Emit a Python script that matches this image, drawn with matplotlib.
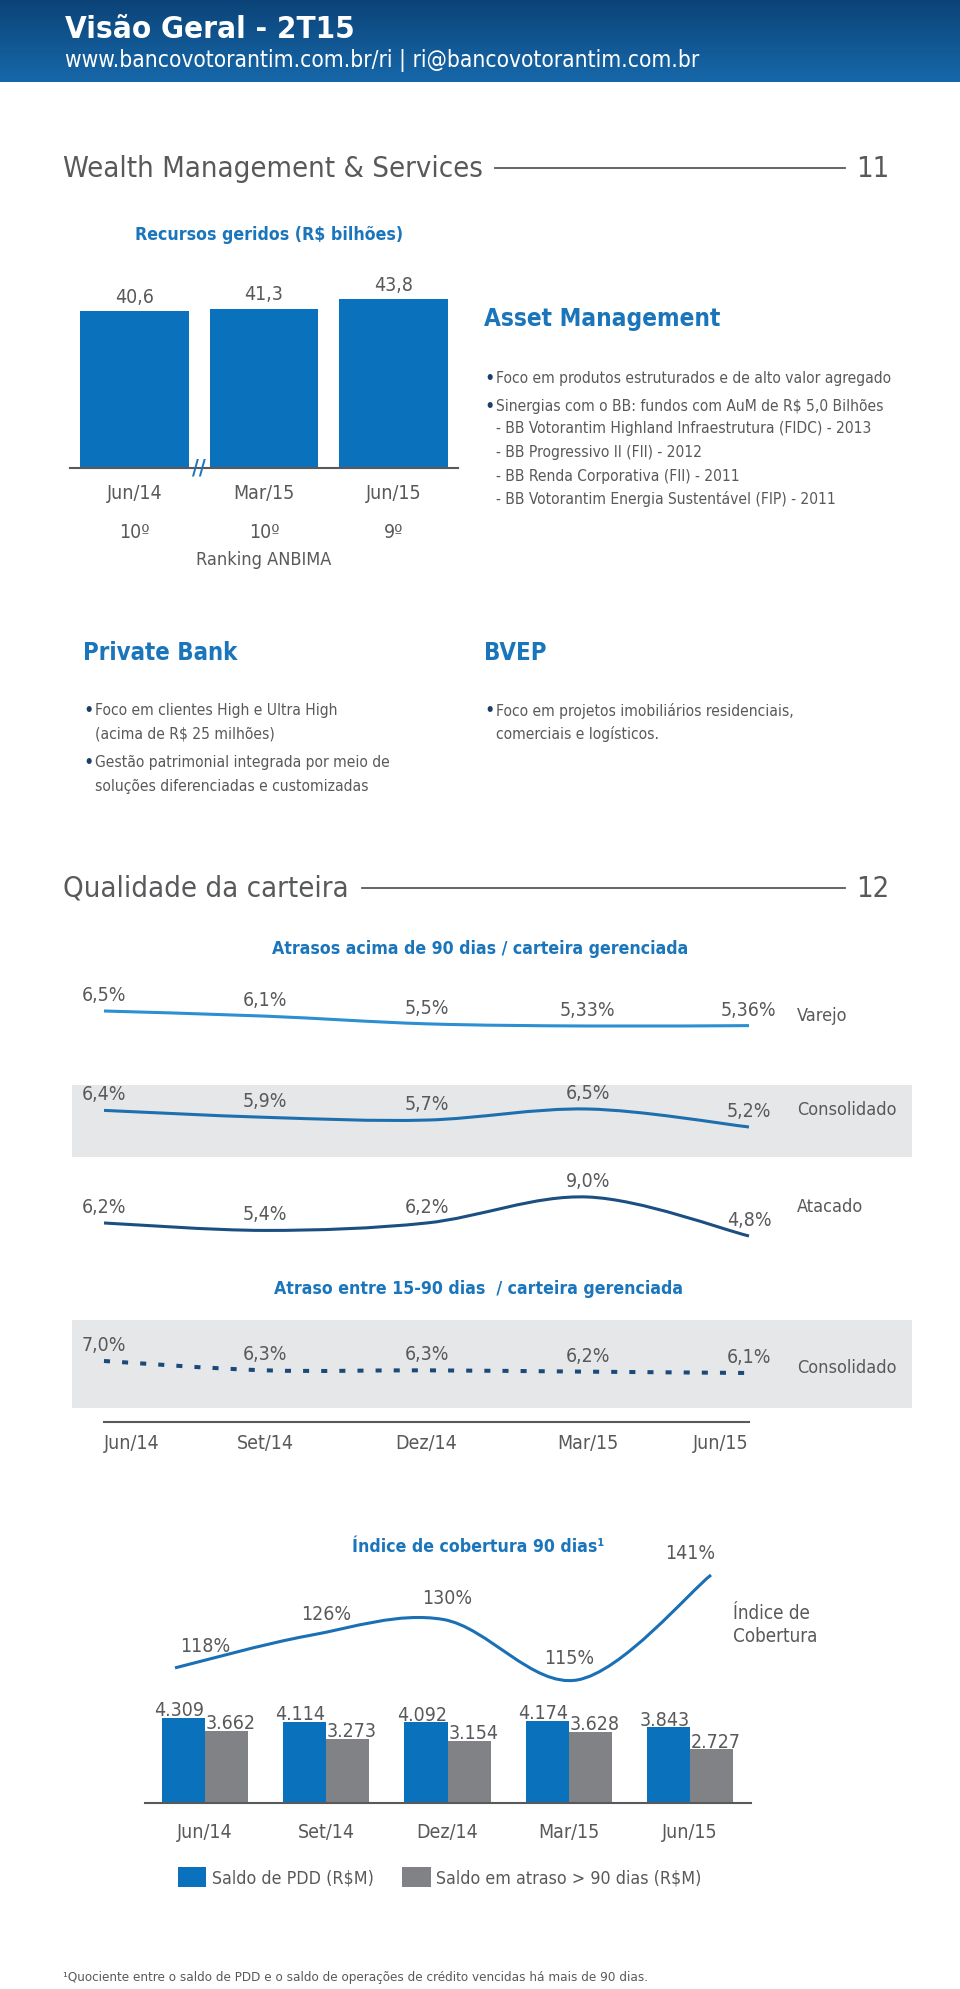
import numpy as np
import matplotlib
matplotlib.use('Agg')
import matplotlib.pyplot as plt
from matplotlib.path import Path
from matplotlib.patches import PathPatch, Rectangle
from matplotlib.lines import Line2D
from matplotlib.transforms import Affine2D, blended_transform_factory

plt.rcParams['font.family'] = ['DejaVu Sans']
plt.rcParams['font.stretch'] = 'condensed'

# Dados - Recursos geridos (R$ bilhões)
recursos_cats = ['Jun/14', 'Mar/15', 'Jun/15']
recursos_vals = [40.6, 41.3, 43.8]
ranking_anbima = ['10º', '10º', '9º']

# Dados - Qualidade da carteira
trimestres = ['Jun/14', 'Set/14', 'Dez/14', 'Mar/15', 'Jun/15']
varejo = [6.5, 6.1, 5.5, 5.33, 5.36]
consolidado = [6.4, 5.9, 5.7, 6.5, 5.2]
atacado = [6.2, 5.4, 6.2, 9.0, 4.8]
atraso_15_90 = [7.0, 6.3, 6.3, 6.2, 6.1]
cobertura = [118, 126, 130, 115, 141]
saldo_pdd = [4309, 4114, 4092, 4174, 3843]
saldo_atraso = [3662, 3273, 3154, 3628, 2727]

asset_bullets = ['Foco em produtos estruturados e de alto valor agregado',
                 'Sinergias com o BB: fundos com AuM de R$ 5,0 Bilhões']
asset_fundos = ['- BB Votorantim Highland Infraestrutura (FIDC) - 2013',
                '- BB Progressivo II (FII) - 2012',
                '- BB Renda Corporativa (FII) - 2011',
                '- BB Votorantim Energia Sustentável (FIP) - 2011']
private_bullets = [['Foco em clientes High e Ultra High', '(acima de R$ 25 milhões)'],
                   ['Gestão patrimonial integrada por meio de', 'soluções diferenciadas e customizadas']]
bvep_bullets = [['Foco em projetos imobiliários residenciais,', 'comerciais e logísticos.']]

BLUE = '#0a72bd'
TITLE_BLUE = '#1a75bb'
GRAY_BAR = '#808285'
TEXT = '#58595b'
NAVY = '#1d3e6a'
BAND = '#e6e7e8'

W, H = 960, 1990
fig = plt.figure(figsize=(W / 100, H / 100), dpi=100)
PX = Affine2D().scale(1 / W, -1 / H).translate(0, 1) + fig.transFigure


def box(x0, y0, x1, y1):
    return fig.add_axes([x0 / W, 1 - y1 / H, (x1 - x0) / W, (y1 - y0) / H])


def txt(x, y, s, **kw):
    kw.setdefault('va', 'center')
    kw.setdefault('color', TEXT)
    return fig.text(x, y, s, transform=PX, **kw)


def hline(x0, x1, y, color=TEXT, lw=1.3):
    fig.add_artist(Line2D([x0, x1], [y, y], transform=PX, color=color, lw=lw))


def band(y0, y1):
    fig.add_artist(Rectangle((72, y0), 840, y1 - y0, transform=PX,
                             facecolor=BAND, edgecolor='none', zorder=-1))


def pct(v):
    s = f'{v:.2f}'
    if s.endswith('0'):
        s = s[:-1]
    return s.replace('.', ',') + '%'


def smooth_path(xs, ys):
    p = np.column_stack([xs, ys]).astype(float)
    ext = np.vstack([p[0], p, p[-1]])
    verts, codes = [p[0]], [Path.MOVETO]
    for i in range(len(p) - 1):
        p0, p1, p2, p3 = ext[i], ext[i + 1], ext[i + 2], ext[i + 3]
        verts += [p1 + (p2 - p0) / 6, p2 - (p3 - p1) / 6, p2]
        codes += [Path.CURVE4] * 3
    return Path(verts, codes)


def serie(vals, y_top, y_bot, color, lw=2.2, ls='-', x0=104, x1=749):
    ax = box(x0, y_top, x1, y_bot)
    ax.set_xlim(0, len(vals) - 1)
    ax.set_ylim(min(vals), max(vals))
    ax.axis('off')
    ax.add_patch(PathPatch(smooth_path(range(len(vals)), vals), fill=False,
                           edgecolor=color, lw=lw, linestyle=ls,
                           capstyle='butt', clip_on=False))
    return ax


def rotulos(ax, vals):
    for i, v in enumerate(vals):
        ax.annotate(pct(v), (i, v), xytext=(0, 8), textcoords='offset points',
                    ha='center', va='baseline', fontsize=14, color=TEXT)


# Cabeçalho com gradiente
ax_h = box(0, 0, W, 83)
grad = np.linspace(0, 1, 100).reshape(-1, 1)
top_c = np.array(matplotlib.colors.to_rgb('#0b4377'))
bot_c = np.array(matplotlib.colors.to_rgb('#1768aa'))
ax_h.imshow(top_c + grad[..., None] * (bot_c - top_c), aspect='auto',
            extent=(0, 1, 0, 1))
ax_h.axis('off')
txt(65, 29, 'Visão Geral - 2T15', fontsize=22.5, fontweight='bold', color='white')
txt(65, 60, 'www.bancovotorantim.com.br/ri | ri@bancovotorantim.com.br',
    fontsize=16.3, color='white')

# Wealth Management & Services
txt(63, 169, 'Wealth Management & Services', fontsize=21)
hline(495, 845, 169)
txt(889, 169, '11', fontsize=21, ha='right')

txt(269, 235, 'Recursos geridos (R$ bilhões)', fontsize=12.7, fontweight='bold',
    color=TITLE_BLUE, ha='center')
ax_r = box(70, 280, 458, 469)
ax_r.bar(range(len(recursos_vals)), recursos_vals, width=0.84, color=BLUE)
ax_r.set_xlim(-0.5, len(recursos_vals) - 0.5)
ax_r.set_ylim(0, 49)
for s in ['top', 'left', 'right']:
    ax_r.spines[s].set_visible(False)
ax_r.spines['bottom'].set_color(TEXT)
ax_r.spines['bottom'].set_linewidth(1.5)
ax_r.set_yticks([])
ax_r.set_xticks(range(len(recursos_cats)), recursos_cats)
ax_r.tick_params(axis='x', length=0, pad=11, labelsize=14, labelcolor=TEXT)
ax_r.patch.set_visible(False)
for i, v in enumerate(recursos_vals):
    ax_r.annotate(f'{v:.1f}'.replace('.', ','), (i, v), xytext=(0, 4),
                  textcoords='offset points', ha='center', va='bottom',
                  fontsize=14, color=TEXT)
ax_r.text(0.5, 0, '//', ha='center', va='center', fontsize=15, color=TITLE_BLUE,
          fontweight='bold')
tr_r = blended_transform_factory(ax_r.transData, PX)
for i, r in enumerate(ranking_anbima):
    ax_r.text(i, 532, r, transform=tr_r, ha='center', va='center', fontsize=14, color=TEXT)
ax_r.text(1, 560, 'Ranking ANBIMA', transform=tr_r, ha='center', va='center',
          fontsize=13, color=TEXT)

# Asset Management
txt(484, 319, 'Asset Management', fontsize=17.5, fontweight='bold', color=TITLE_BLUE)
for y, s in zip([378, 406], asset_bullets):
    txt(484, y, '•', fontsize=14, color=NAVY)
    txt(496, y, s, fontsize=11.2)
for y, s in zip([429, 452, 476, 499], asset_fundos):
    txt(496, y, s, fontsize=11.2)

# Private Bank / BVEP
txt(83, 653, 'Private Bank', fontsize=17.2, fontweight='bold', color=TITLE_BLUE)
txt(484, 653, 'BVEP', fontsize=17.2, fontweight='bold', color=TITLE_BLUE)
for ys, linhas in zip([(711, 734), (763, 786)], private_bullets):
    txt(83, ys[0], '•', fontsize=14, color=NAVY)
    for y, s in zip(ys, linhas):
        txt(95, y, s, fontsize=11.2)
for ys, linhas in zip([(711, 734)], bvep_bullets):
    txt(484, ys[0], '•', fontsize=14, color=NAVY)
    for y, s in zip(ys, linhas):
        txt(496, y, s, fontsize=11.2)

# Qualidade da carteira
txt(63, 889, 'Qualidade da carteira', fontsize=21)
hline(362, 845, 889)
txt(889, 889, '12', fontsize=21, ha='right')

txt(480, 949, 'Atrasos acima de 90 dias / carteira gerenciada', fontsize=12.7,
    fontweight='bold', color=TITLE_BLUE, ha='center')
band(1086, 1158)
ax_v = serie(varejo, 1012, 1027, '#2b8fd1')
rotulos(ax_v, varejo)
txt(797, 1016, 'Varejo', fontsize=13)
ax_c = serie(consolidado, 1110, 1128, '#1e6fae')
rotulos(ax_c, consolidado)
txt(797, 1110, 'Consolidado', fontsize=13)
ax_a = serie(atacado, 1198, 1237, '#1b4f82')
rotulos(ax_a, atacado)
txt(797, 1207, 'Atacado', fontsize=13)

txt(478, 1289, 'Atraso entre 15-90 dias  / carteira gerenciada', fontsize=12.7,
    fontweight='bold', color=TITLE_BLUE, ha='center')
band(1321, 1409)
ax_d = serie(atraso_15_90, 1362, 1374, '#1b4a7a', lw=2.9, ls=(0, (1.5, 3)))
rotulos(ax_d, atraso_15_90)
txt(797, 1368, 'Consolidado', fontsize=13)

ax_x = box(104, 1420, 749, 1423)
ax_x.set_xlim(0, len(trimestres) - 1)
ax_x.set_yticks([])
for s in ['top', 'left', 'right']:
    ax_x.spines[s].set_visible(False)
ax_x.spines['bottom'].set_color(TEXT)
ax_x.spines['bottom'].set_linewidth(1.5)
ax_x.patch.set_visible(False)
ax_x.set_xticks(range(len(trimestres)), trimestres)
ax_x.tick_params(axis='x', length=0, pad=8, labelsize=14, labelcolor=TEXT)
ax_x.get_xticklabels()[0].set_ha('left')
ax_x.get_xticklabels()[-1].set_ha('right')

# Índice de cobertura
txt(478, 1547, 'Índice de cobertura 90 dias¹', fontsize=12.7, fontweight='bold',
    color=TITLE_BLUE, ha='center')
ax_b = box(144.5, 1700, 750.5, 1804)
xb = np.arange(len(trimestres))
wb = 0.355
b1 = ax_b.bar(xb - wb / 2, saldo_pdd, width=wb, color=BLUE, label='Saldo de PDD (R$M)')
b2 = ax_b.bar(xb + wb / 2, saldo_atraso, width=wb, color=GRAY_BAR,
              label='Saldo em atraso > 90 dias (R$M)')
ax_b.set_xlim(-0.5, len(trimestres) - 0.5)
ax_b.set_ylim(0, 5280)
for s in ['top', 'left', 'right']:
    ax_b.spines[s].set_visible(False)
ax_b.spines['bottom'].set_color(TEXT)
ax_b.spines['bottom'].set_linewidth(1.5)
ax_b.set_yticks([])
ax_b.patch.set_visible(False)
ax_b.set_xticks(xb, trimestres)
ax_b.tick_params(axis='x', length=0, pad=14, labelsize=14, labelcolor=TEXT)
for i in xb:
    ax_b.annotate(f'{saldo_pdd[i]:,}'.replace(',', '.'), (i - wb / 2, saldo_pdd[i]),
                  xytext=(-3, 2), textcoords='offset points', ha='center',
                  va='baseline', fontsize=14, color=TEXT)
    ax_b.annotate(f'{saldo_atraso[i]:,}'.replace(',', '.'), (i + wb / 2, saldo_atraso[i]),
                  xytext=(3, 2), textcoords='offset points', ha='center',
                  va='baseline', fontsize=14, color=TEXT)

ax_l = serie(cobertura, 1576, 1681, '#1a6fb5', x0=175, x1=711)
tr_l = blended_transform_factory(ax_b.transData, ax_l.transData)
for i, v in enumerate(cobertura):
    ax_l.annotate(f'{v}%', (i, v), xycoords=tr_l, xytext=(0, 16),
                  textcoords='offset points', ha='center', va='center',
                  fontsize=14, color=TEXT)
txt(733, 1625, 'Índice de\nCobertura', fontsize=13.5, linespacing=1.25)

ax_b.legend(handles=[b1, b2], loc='center left', bbox_to_anchor=(178, 1878),
            bbox_transform=PX, ncol=2, frameon=False, fontsize=12.8,
            handlelength=1.6, handleheight=1.3, handletextpad=0.3,
            columnspacing=1.6, borderpad=0, borderaxespad=0, labelcolor=TEXT)

txt(63, 1977, '¹Quociente entre o saldo de PDD e o saldo de operações de crédito '
    'vencidas há mais de 90 dias.', fontsize=9.6)

fig.savefig('out.png', dpi=100)
